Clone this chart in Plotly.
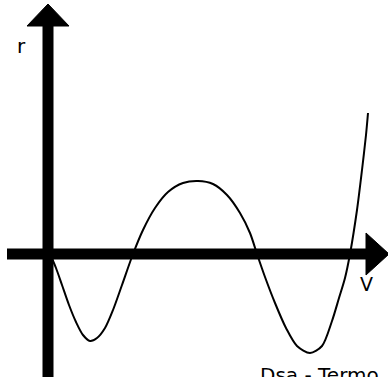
import plotly.graph_objects as go

# Curve sample points (V, r) in chart units, origin at the axes crossing
V_values = [2, 8, 14, 21, 28, 35, 42, 49, 57, 65, 74, 85, 95, 107, 120, 135, 150, 165, 179, 192,
            202, 209, 217, 227, 238, 249, 262, 274, 284, 291, 297, 302, 309, 314, 318, 320]
r_values = [0, -14, -31, -51, -68, -81, -87, -84, -74, -56, -31, 0, 24, 46, 62, 71, 73, 70, 59, 41,
            21, 0, -23, -49, -74, -92, -99, -92, -67, -44, -24, 0, 44, 84, 119, 141]

# Axis extents
x_min, x_max = -48, 340
y_min, y_max = -123, 254

fig = go.Figure()
fig.add_trace(go.Scatter(
    x=V_values, y=r_values, mode="lines",
    line=dict(color="black", width=2, shape="spline", smoothing=0.8),
    hoverinfo="skip", showlegend=False,
))

shapes = [
    # vertical axis shaft
    dict(type="line", x0=0, x1=0, y0=y_min, y1=229, line=dict(color="black", width=11)),
    # horizontal axis shaft
    dict(type="line", x0=-41, x1=319, y0=0, y1=0, line=dict(color="black", width=11)),
    # arrow heads
    dict(type="path", path="M -21,228 L 21,228 L 0,250 Z", fillcolor="black", line=dict(color="black", width=1)),
    dict(type="path", path="M 318,21 L 318,-21 L 341,0 Z", fillcolor="black", line=dict(color="black", width=1)),
]

fig.update_layout(
    width=388, height=377, autosize=False,
    margin=dict(l=0, r=0, t=0, b=0),
    paper_bgcolor="white", plot_bgcolor="white",
    xaxis=dict(range=[x_min, x_max], visible=False, fixedrange=True),
    yaxis=dict(range=[y_min, y_max], visible=False, fixedrange=True),
    shapes=shapes,
    font=dict(family="DejaVu Sans", color="black", size=20),
    annotations=[
        dict(x=-27, y=208, text="r", showarrow=False, xanchor="center", yanchor="middle", font=dict(size=20)),
        dict(x=318, y=-30, text="V", showarrow=False, xanchor="center", yanchor="middle", font=dict(size=19)),
        dict(x=210, y=-107, text="Dsa - Termo", showarrow=False, xanchor="left", yanchor="top", font=dict(size=20)),
    ],
)

fig.write_html("out.html", config={"displayModeBar": False, "staticPlot": True},
               post_script="document.body.style.margin='0';")
